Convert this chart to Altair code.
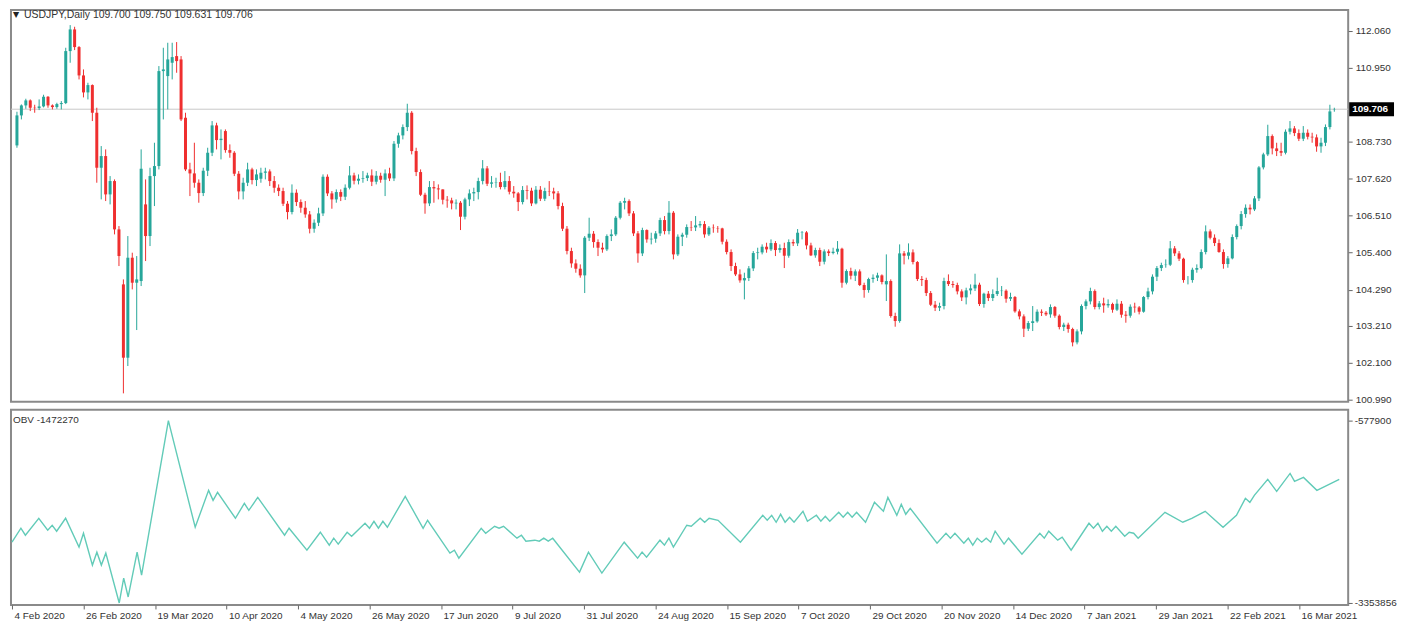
import altair as alt
import pandas as pd

# ---------------- data ----------------
symbol = "USDJPY,Daily"

opens = [
    108.62, 109.52, 109.82, 109.97, 109.75, 109.74, 109.79, 110.08, 109.82, 109.77,
    109.86, 109.89, 111.45, 112.10, 111.57, 110.72, 110.21, 110.43, 109.60, 107.95,
    108.30, 107.15, 107.55, 106.10, 104.45, 102.25, 105.25, 104.50, 104.55, 106.85,
    105.90, 107.70, 108.00, 110.85, 110.70, 111.10, 111.30, 111.20, 109.45, 107.90,
    107.78, 107.50, 107.19, 107.86, 108.40, 109.22, 108.78, 109.05, 108.48, 108.40,
    107.77, 107.24, 107.50, 107.90, 107.58, 107.62, 107.80, 107.84, 107.55, 107.35,
    107.25, 106.87, 106.62, 107.20, 106.92, 106.75, 106.55, 106.12, 106.30, 106.58,
    107.68, 107.18, 107.00, 107.22, 107.08, 107.35, 107.72, 107.56, 107.62, 107.64,
    107.72, 107.53, 107.71, 107.59, 107.78, 107.63, 108.67, 108.92, 109.17, 109.60,
    108.45, 107.82, 107.14, 106.88, 107.37, 107.33, 107.30, 106.99, 106.97, 106.88,
    106.90, 106.48, 107.00, 107.18, 107.22, 107.55, 107.93, 107.47, 107.51, 107.52,
    107.37, 107.55, 107.23, 107.18, 106.92, 107.28, 107.26, 106.88, 107.29, 107.02,
    107.25, 107.24, 107.18, 106.80, 106.12, 105.45, 105.08, 104.92, 104.72, 105.85,
    105.97, 105.72, 105.55, 105.50, 105.90, 105.95, 106.45, 106.90, 106.95, 106.58,
    105.98, 105.38, 106.08, 105.80, 105.82, 105.98, 106.38, 106.05, 106.60, 105.35,
    105.88, 105.94, 106.17, 106.16, 106.22, 106.26, 105.95, 106.15, 106.14, 106.13,
    105.73, 105.42, 105.00, 104.75, 104.57, 104.64, 104.93, 105.39, 105.41, 105.58,
    105.50, 105.69, 105.48, 105.54, 105.31, 105.72, 105.68, 106.00, 106.01, 105.62,
    105.32, 105.48, 105.13, 105.44, 105.39, 105.43, 105.52, 104.50, 104.85, 104.71,
    104.84, 104.43, 104.28, 104.61, 104.65, 104.72, 104.45, 104.55, 103.50, 103.35,
    105.38, 105.31, 105.41, 105.12, 104.61, 104.58, 104.19, 103.84, 103.75, 103.80,
    104.55, 104.46, 104.43, 104.24, 104.06, 104.27, 104.33, 104.44, 103.86, 104.17,
    104.04, 104.16, 104.25, 104.26, 104.02, 104.07, 103.64, 103.49, 103.12, 103.29,
    103.34, 103.63, 103.60, 103.55, 103.77, 103.51, 103.17, 103.24, 103.11, 102.71,
    103.04, 103.80, 103.94, 104.25, 103.77, 103.88, 103.82, 103.86, 103.69, 103.87,
    103.54, 103.51, 103.78, 103.76, 103.63, 104.07, 104.24, 104.68, 104.94, 105.03,
    105.04, 105.53, 105.38, 105.22, 104.58, 104.58, 104.89, 104.94, 105.42, 106.04,
    105.85, 105.69, 105.42, 105.06, 105.23, 105.87, 106.20, 106.56, 106.75, 106.70,
    107.03, 107.96, 108.35, 108.90, 108.53, 108.45, 108.40, 109.03, 109.13, 108.99,
    108.82, 109.00, 108.88, 108.86, 108.59, 108.70, 109.17, 109.700,
]

highs = [
    109.63, 109.85, 110.02, 110.00, 109.84, 110.00, 110.14, 110.10, 109.85, 109.90,
    109.95, 111.55, 112.23, 112.18, 111.60, 110.90, 110.50, 110.45, 109.75, 108.60,
    108.50, 107.70, 107.60, 106.20, 104.60, 105.90, 105.40, 105.30, 108.50, 107.60,
    107.95, 108.70, 111.00, 111.55, 111.70, 111.70, 111.72, 111.30, 109.60, 108.10,
    108.70, 107.60, 107.95, 108.55, 109.35, 109.30, 109.10, 109.10, 108.65, 108.45,
    107.85, 107.65, 108.10, 107.95, 107.90, 107.95, 107.95, 107.90, 107.70, 107.45,
    107.35, 106.95, 107.45, 107.30, 107.00, 106.95, 106.65, 106.40, 106.75, 107.75,
    107.75, 107.25, 107.30, 107.30, 107.45, 108.00, 107.80, 107.75, 107.85, 107.80,
    107.90, 107.85, 107.80, 107.90, 107.95, 108.75, 109.00, 109.25, 109.87, 109.65,
    108.55, 107.90, 107.20, 107.55, 107.55, 107.45, 107.30, 107.10, 107.05, 107.00,
    106.95, 107.05, 107.30, 107.35, 107.65, 108.18, 108.00, 107.70, 107.65, 107.80,
    107.85, 107.70, 107.40, 107.22, 107.40, 107.42, 107.35, 107.40, 107.40, 107.35,
    107.55, 107.35, 107.25, 106.90, 106.20, 105.55, 105.20, 105.05, 105.90, 106.45,
    106.05, 105.80, 105.70, 105.95, 106.10, 106.50, 106.95, 107.05, 107.00, 106.65,
    106.05, 106.15, 106.10, 106.00, 106.05, 106.45, 106.50, 106.95, 106.65, 105.95,
    106.00, 106.25, 106.35, 106.50, 106.35, 106.35, 106.20, 106.25, 106.20, 106.15,
    105.80, 105.50, 105.10, 104.90, 104.80, 105.00, 105.45, 105.55, 105.65, 105.70,
    105.80, 105.75, 105.65, 105.70, 105.80, 105.80, 106.11, 106.05, 106.05, 105.70,
    105.55, 105.55, 105.50, 105.50, 105.55, 105.75, 105.55, 104.90, 104.95, 104.90,
    104.90, 104.50, 104.65, 104.75, 104.80, 104.75, 105.35, 104.60, 103.60, 105.65,
    105.45, 105.68, 105.50, 105.15, 104.70, 104.65, 104.25, 103.95, 103.90, 104.65,
    104.75, 104.55, 104.50, 104.30, 104.35, 104.45, 104.77, 104.50, 104.20, 104.25,
    104.30, 104.65, 104.40, 104.30, 104.20, 104.10, 103.70, 103.55, 103.35, 103.80,
    103.70, 103.70, 103.65, 103.85, 103.80, 103.55, 103.30, 103.30, 103.15, 103.10,
    103.85, 104.00, 104.35, 104.30, 103.95, 104.05, 104.00, 103.90, 104.00, 103.95,
    103.65, 103.85, 103.90, 103.80, 104.10, 104.35, 104.75, 105.00, 105.10, 105.20,
    105.75, 105.60, 105.45, 105.25, 104.70, 104.95, 105.05, 105.50, 106.22, 106.10,
    105.95, 105.80, 105.50, 105.30, 105.95, 106.25, 106.65, 106.85, 106.85, 107.10,
    108.00, 108.40, 109.24, 108.95, 108.70, 108.70, 109.10, 109.35, 109.20, 109.10,
    109.20, 109.10, 109.00, 108.95, 108.85, 109.25, 109.84, 109.750,
]

lows = [
    108.55, 109.40, 109.72, 109.65, 109.60, 109.68, 109.76, 109.75, 109.70, 109.72,
    109.70, 109.86, 111.10, 111.48, 110.60, 110.06, 110.00, 109.35, 107.50, 107.00,
    106.95, 106.85, 105.95, 105.00, 101.18, 102.00, 104.30, 103.08, 104.40, 105.15,
    105.60, 106.80, 107.90, 109.40, 109.70, 110.60, 110.80, 109.35, 107.85, 107.10,
    107.35, 106.90, 107.10, 107.70, 108.30, 108.50, 108.20, 108.40, 108.25, 107.70,
    107.00, 107.00, 107.40, 107.45, 107.40, 107.50, 107.60, 107.40, 107.20, 107.10,
    106.80, 106.40, 106.55, 106.80, 106.60, 106.45, 105.98, 106.00, 106.20, 106.50,
    107.10, 106.72, 106.90, 106.95, 106.98, 107.30, 107.45, 107.45, 107.50, 107.55,
    107.40, 107.45, 107.50, 107.10, 107.55, 107.55, 108.55, 108.80, 109.05, 108.35,
    107.70, 107.10, 106.57, 106.80, 106.90, 107.00, 106.85, 106.75, 106.70, 106.70,
    106.08, 106.40, 106.80, 106.95, 107.00, 107.45, 107.40, 107.35, 107.35, 107.30,
    107.30, 107.15, 107.05, 106.65, 106.85, 107.00, 106.80, 106.85, 106.95, 106.95,
    107.10, 107.00, 106.70, 106.05, 105.35, 104.95, 104.80, 104.65, 104.19, 105.75,
    105.55, 105.30, 105.40, 105.45, 105.75, 105.90, 106.40, 106.70, 106.50, 105.90,
    105.10, 105.30, 105.70, 105.65, 105.70, 105.90, 105.95, 105.95, 105.20, 105.30,
    105.60, 105.85, 106.05, 106.05, 106.15, 105.85, 105.90, 106.00, 106.00, 105.65,
    105.35, 104.85, 104.70, 104.50, 104.00, 104.55, 104.85, 105.20, 105.35, 105.40,
    105.45, 105.30, 105.40, 104.94, 105.25, 105.60, 105.60, 105.80, 105.50, 105.30,
    105.25, 105.00, 105.05, 105.30, 105.35, 105.35, 104.35, 104.45, 104.60, 104.55,
    104.40, 104.05, 104.20, 104.50, 104.55, 104.45, 103.95, 103.45, 103.18, 103.30,
    105.05, 105.20, 105.05, 104.55, 104.40, 104.10, 103.80, 103.65, 103.65, 103.70,
    104.40, 104.35, 104.15, 103.95, 103.85, 104.15, 104.25, 103.80, 103.75, 103.95,
    103.95, 104.10, 104.10, 103.90, 103.95, 103.60, 103.40, 102.87, 103.05, 103.05,
    103.30, 103.50, 103.50, 103.45, 103.45, 103.10, 103.05, 103.00, 102.59, 102.65,
    102.95, 103.70, 103.85, 103.70, 103.70, 103.60, 103.75, 103.60, 103.65, 103.45,
    103.30, 103.45, 103.60, 103.55, 103.60, 104.00, 104.15, 104.55, 104.85, 104.95,
    105.00, 105.30, 105.15, 104.50, 104.45, 104.50, 104.80, 104.90, 105.35, 105.80,
    105.60, 105.40, 104.92, 104.95, 105.20, 105.80, 106.10, 106.45, 106.55, 106.65,
    106.95, 107.90, 108.30, 108.35, 108.30, 108.30, 108.35, 108.95, 108.90, 108.75,
    108.75, 108.80, 108.70, 108.43, 108.40, 108.60, 109.10, 109.631,
]

closes = [
    109.52, 109.82, 109.97, 109.75, 109.74, 109.79, 110.08, 109.82, 109.77, 109.86,
    109.89, 111.45, 112.10, 111.57, 110.72, 110.21, 110.43, 109.60, 107.95, 108.30,
    107.15, 107.55, 106.10, 105.30, 102.25, 105.25, 104.50, 104.60, 107.92, 105.90,
    107.70, 108.00, 110.85, 110.90, 111.20, 111.27, 111.15, 109.40, 107.90, 107.78,
    107.50, 107.19, 107.86, 108.40, 109.22, 108.78, 108.82, 108.48, 108.40, 107.77,
    107.24, 107.50, 107.90, 107.58, 107.75, 107.80, 107.84, 107.55, 107.35, 107.25,
    106.87, 106.62, 107.20, 106.92, 106.75, 106.55, 106.12, 106.30, 106.58, 107.68,
    107.18, 107.00, 107.22, 107.08, 107.35, 107.72, 107.56, 107.62, 107.64, 107.72,
    107.53, 107.71, 107.59, 107.78, 107.63, 108.67, 108.92, 109.17, 109.60, 108.45,
    107.82, 107.14, 106.88, 107.37, 107.33, 107.30, 106.99, 106.97, 106.88, 106.90,
    106.48, 107.00, 107.18, 107.22, 107.55, 107.93, 107.47, 107.51, 107.52, 107.37,
    107.55, 107.23, 107.18, 106.92, 107.28, 107.26, 106.88, 107.29, 107.02, 107.25,
    107.24, 107.18, 106.80, 106.12, 105.45, 105.08, 104.92, 104.72, 105.85, 105.97,
    105.72, 105.55, 105.50, 105.90, 105.95, 106.45, 106.90, 106.95, 106.58, 105.98,
    105.38, 106.08, 105.80, 105.82, 105.98, 106.38, 106.05, 106.60, 105.35, 105.88,
    105.94, 106.17, 106.16, 106.22, 106.26, 105.95, 106.15, 106.14, 106.13, 105.73,
    105.42, 105.00, 104.75, 104.57, 104.64, 104.93, 105.39, 105.41, 105.58, 105.50,
    105.69, 105.48, 105.54, 105.31, 105.72, 105.68, 106.00, 106.01, 105.62, 105.32,
    105.48, 105.13, 105.44, 105.39, 105.43, 105.52, 104.50, 104.85, 104.71, 104.84,
    104.43, 104.28, 104.61, 104.65, 104.72, 104.52, 104.55, 103.50, 103.35, 105.38,
    105.31, 105.41, 105.12, 104.61, 104.58, 104.19, 103.84, 103.75, 103.80, 104.55,
    104.46, 104.43, 104.24, 104.06, 104.27, 104.33, 104.44, 103.86, 104.17, 104.04,
    104.16, 104.25, 104.26, 104.02, 104.07, 103.64, 103.49, 103.12, 103.29, 103.34,
    103.63, 103.60, 103.55, 103.77, 103.51, 103.17, 103.24, 103.11, 102.71, 103.04,
    103.80, 103.94, 104.25, 103.77, 103.88, 103.82, 103.86, 103.69, 103.87, 103.54,
    103.51, 103.78, 103.76, 103.63, 104.07, 104.24, 104.68, 104.94, 105.03, 105.04,
    105.53, 105.38, 105.22, 104.58, 104.58, 104.89, 104.94, 105.42, 106.04, 105.85,
    105.69, 105.42, 105.06, 105.23, 105.87, 106.20, 106.56, 106.75, 106.70, 107.03,
    107.96, 108.35, 108.90, 108.53, 108.45, 108.40, 109.03, 109.13, 108.99, 108.82,
    109.00, 108.88, 108.86, 108.59, 108.70, 109.17, 109.64, 109.706,
]

# OBV turning points: bar number and value
obv_bar = [
    0, 2, 3, 6, 8, 9, 10, 12, 15, 16, 18, 19, 20, 21, 24, 25, 26, 28, 29, 35,
    41, 44, 45, 46, 50, 52, 53, 55, 61, 62, 66, 69, 71, 72, 73, 75, 76, 79, 80, 81,
    82, 83, 84, 88, 92, 93, 98, 99, 100, 105, 106, 108, 109, 110, 113, 114, 115, 117, 118, 119,
    120, 121, 127, 129, 132, 137, 140, 141, 142, 145, 146, 147, 148, 151, 152, 154, 155, 156, 158, 163,
    168, 169, 170, 171, 172, 173, 174, 175, 177, 178, 180, 181, 182, 183, 185, 186, 187, 188, 189, 191,
    193, 195, 196, 198, 199, 200, 201, 207, 209, 210, 211, 213, 214, 215, 216, 217, 218, 219, 220, 222,
    223, 226, 230, 231, 232, 234, 235, 237, 241, 242, 243, 244, 245, 246, 247, 249, 250, 251, 252, 258,
    262, 264, 267, 271, 274, 276, 277, 278, 281, 283, 286, 287, 289, 292, 297,
]
obv_value = [
    -2428500, -2216150, -2322335, -2064462, -2246490, -2170645, -2261659, -2064462, -2504363, -2291997,
    -2777405, -2580208, -2777405, -2595377, -3353856, -2974602, -3262813, -2580208, -2929095, -577900,
    -2200983, -1639730, -1791420, -1670068, -2064462, -1836927, -1943110, -1745913, -2322335, -2216150,
    -2549870, -2276828, -2474025, -2367842, -2458856, -2276828, -2337504, -2140307, -2216150, -2109969,
    -2216150, -2109969, -2200983, -1730744, -2216150, -2094800, -2595377, -2549870, -2671222, -2216150,
    -2291997, -2185814, -2216150, -2185814, -2367842, -2322335, -2413349, -2398180, -2413349, -2367842,
    -2413349, -2367842, -2883588, -2580208, -2898757, -2428518, -2671222, -2580208, -2656053, -2398180,
    -2474025, -2367842, -2504363, -2170645, -2185814, -2064462, -2125138, -2064462, -2094800, -2428518,
    -2018955, -2094800, -2018955, -2125138, -2003786, -2125138, -2049293, -2125138, -1958279, -2109969,
    -2018955, -2109969, -2034124, -2109969, -1973448, -2049293, -1973448, -2049293, -1973448, -2125138,
    -1821758, -1958279, -1745913, -2018955, -1852096, -2003786, -1912772, -2443687, -2291997, -2367842,
    -2291997, -2443687, -2367842, -2474025, -2367842, -2428518, -2367842, -2428518, -2261659, -2458856,
    -2367842, -2610546, -2291997, -2367842, -2261659, -2398180, -2352673, -2549870, -2140307, -2216150,
    -2140307, -2261659, -2185814, -2261659, -2185814, -2337504, -2276828, -2291997, -2367842, -1973448,
    -2125138, -2064462, -1958279, -2200983, -2018955, -1761082, -1821758, -1715575, -1472871, -1654900,
    -1381857, -1503209, -1442533, -1639730, -1472270,
]

price_ticks = [112.060, 110.950, 108.730, 107.620, 106.510, 105.400, 104.290, 103.210, 102.100, 100.990]
obv_ticks = [-577900, -3353856]
date_labels = [
    "4 Feb 2020", "26 Feb 2020", "19 Mar 2020", "10 Apr 2020", "4 May 2020", "26 May 2020",
    "17 Jun 2020", "9 Jul 2020", "31 Jul 2020", "24 Aug 2020", "15 Sep 2020", "7 Oct 2020",
    "29 Oct 2020", "20 Nov 2020", "14 Dec 2020", "7 Jan 2021", "29 Jan 2021", "22 Feb 2021",
    "16 Mar 2021",
]
bars_per_label = 16

assert len(opens) == len(highs) == len(lows) == len(closes), (len(opens), len(highs), len(lows), len(closes))
assert len(obv_bar) == len(obv_value), (len(obv_bar), len(obv_value))

# ---------------- styling ----------------
FONT = "Liberation Sans"
TEAL = "#26a69a"
RED = "#ef2f2f"
OBV_COLOR = "#62cbb8"
W = 1342
H_TOP = 393
H_BOT = 196

candles = pd.DataFrame({
    "i": list(range(len(closes))),
    "o": opens, "h": highs, "l": lows, "c": closes,
})
last = candles.tail(1)
obv_df = pd.DataFrame({"i": obv_bar, "v": obv_value})

xscale = alt.Scale(domain=[-0.22, 299.0], nice=False, zero=False)
pscale = alt.Scale(domain=[100.93, 112.68], nice=False, zero=False)
oscale = alt.Scale(domain=[-3384165, -411041], nice=False, zero=False)

paxis = alt.Axis(orient="right", values=price_ticks, format=".3f", title=None,
                 domain=False, grid=False, tickSize=4, labelPadding=3)
oaxis = alt.Axis(orient="right", values=obv_ticks, labelExpr="'' + datum.value", title=None,
                 domain=False, grid=False, tickSize=4, labelPadding=2)
label_js = "[" + ",".join("'" + s + "'" for s in date_labels) + "]"
xaxis = alt.Axis(values=[k * bars_per_label for k in range(len(date_labels))],
                 labelExpr=label_js + "[round(datum.value/" + str(bars_per_label) + ")]",
                 labelAlign="left", labelFlush=False, labelOverlap=False, labelBound=False,
                 labelOffset=2, labelPadding=2, tickSize=4, domain=False, grid=False, title=None)

up = alt.condition("datum.c >= datum.o", alt.value(TEAL), alt.value(RED))

bid_line = alt.Chart(last).mark_rule(color="#c8c8c8", strokeWidth=1).encode(
    y=alt.Y("c:Q", scale=pscale, axis=paxis)
)
wicks = alt.Chart(candles).mark_rule(strokeWidth=1).encode(
    x=alt.X("i:Q", scale=xscale, axis=None),
    y=alt.Y("l:Q", scale=pscale, axis=paxis),
    y2="h:Q",
    color=up,
)
bodies = alt.Chart(candles).mark_bar(size=3).encode(
    x=alt.X("i:Q", scale=xscale, axis=None),
    y=alt.Y("o:Q", scale=pscale, axis=paxis),
    y2="c:Q",
    color=up,
)
header_df = pd.DataFrame({"t": [symbol + "  " + "  ".join(
    f"{v:.3f}" for v in (opens[-1], highs[-1], lows[-1], closes[-1]))]})
tri = alt.Chart(header_df).mark_text(text="\u25bc", font="DejaVu Sans", fontSize=8,
                                      align="left", baseline="middle", color="#222").encode(
    x=alt.value(2), y=alt.value(5))
header = alt.Chart(header_df).mark_text(font=FONT, fontSize=10.5, align="left",
                                         baseline="middle", color="#333").encode(
    x=alt.value(13), y=alt.value(5), text="t:N")
box = alt.Chart(last).mark_rect(color="#000000", yOffset=-7, y2Offset=7).encode(
    x=alt.value(W + 1), x2=alt.value(W + 46),
    y=alt.Y("c:Q", scale=pscale, axis=paxis), y2="c:Q")
box_text = alt.Chart(last).mark_text(font=FONT, fontSize=10, fontWeight="bold", color="white",
                                      align="left", baseline="middle").encode(
    x=alt.value(W + 4), y=alt.Y("c:Q", scale=pscale, axis=paxis),
    text=alt.Text("c:Q", format=".3f"))

top = alt.layer(bid_line, wicks, bodies, tri, header, box, box_text).properties(
    width=W, height=H_TOP)

obv_line = alt.Chart(obv_df).mark_line(color=OBV_COLOR, strokeWidth=1.4).encode(
    x=alt.X("i:Q", scale=xscale, axis=xaxis),
    y=alt.Y("v:Q", scale=oscale, axis=oaxis),
)
obv_title = alt.Chart(pd.DataFrame({"t": [f"OBV {obv_value[-1]}"]})).mark_text(
    font=FONT, fontSize=10, align="left", baseline="middle", color="#333").encode(
    x=alt.value(2), y=alt.value(10), text="t:N")
bottom = alt.layer(obv_line, obv_title).properties(width=W, height=H_BOT)

chart = alt.vconcat(top, bottom, spacing=3, padding=0, background="white").configure_view(
    stroke="#8a8a8a", strokeWidth=2
).configure_axis(
    labelFont=FONT, labelFontSize=10, labelColor="#333333", tickColor="#666666"
)

chart.save("out.html", embed_options={"renderer": "svg", "actions": False})
